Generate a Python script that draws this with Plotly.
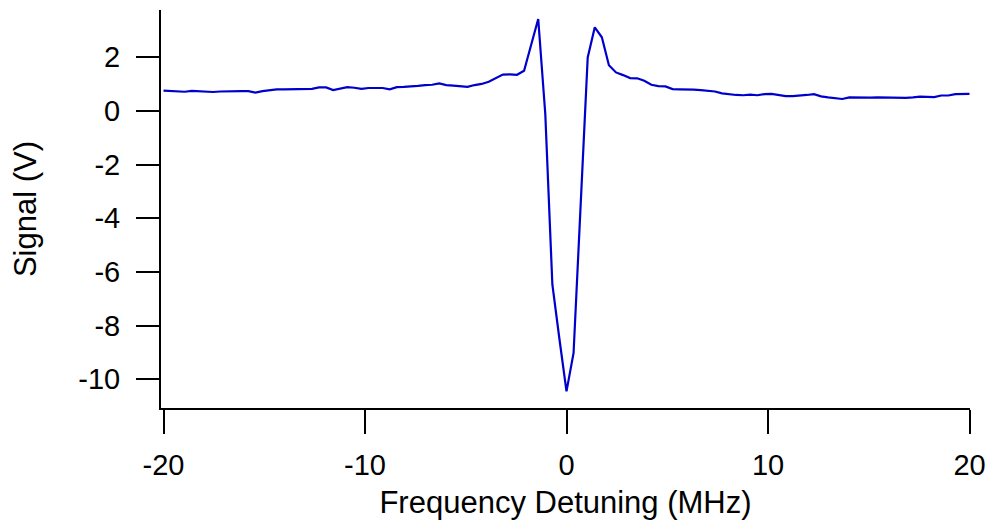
import numpy as np
import plotly.graph_objects as go

n_points = 115
x_start, x_stop = -20.0, 20.0
detuning = list(np.linspace(x_start, x_stop, n_points))

signal = [
    0.75, 0.74, 0.73, 0.71, 0.74, 0.73, 0.73, 0.70, 0.72, 0.73,
    0.73, 0.73, 0.73, 0.68, 0.73, 0.77, 0.80, 0.80, 0.81, 0.80,
    0.82, 0.82, 0.87, 0.87, 0.77, 0.83, 0.88, 0.86, 0.82, 0.85,
    0.85, 0.85, 0.80, 0.88, 0.89, 0.90, 0.93, 0.96, 0.97, 1.02,
    0.96, 0.94, 0.92, 0.89, 0.96, 1.00, 1.08, 1.22, 1.35, 1.36,
    1.34, 1.49, 2.45, 3.42, -0.12, -6.47, -8.5, -10.45, -9.02, -3.5,
    1.99, 3.11, 2.74, 1.70, 1.43, 1.33, 1.22, 1.21, 1.12, 0.97,
    0.92, 0.91, 0.81, 0.80, 0.80, 0.79, 0.77, 0.75, 0.72, 0.65,
    0.61, 0.59, 0.58, 0.60, 0.58, 0.62, 0.63, 0.60, 0.55, 0.55,
    0.56, 0.59, 0.62, 0.54, 0.50, 0.47, 0.44, 0.50, 0.49, 0.48,
    0.49, 0.50, 0.49, 0.48, 0.47, 0.48, 0.50, 0.53, 0.52, 0.51,
    0.57, 0.57, 0.62, 0.62, 0.63,
]

x_ticks = [-20, -10, 0, 10, 20]
y_ticks = [-10, -8, -6, -4, -2, 0, 2]

fig = go.Figure()
fig.add_trace(go.Scatter(
    x=detuning, y=signal, mode="lines",
    line=dict(color="rgb(0,0,204)", width=2.2),
    showlegend=False,
))

family = "Liberation Sans, Arial, sans-serif"
tick_font = dict(family=family, size=29, color="black")
title_font = dict(family=family, size=31, color="black")
fig.update_layout(
    width=991, height=520,
    margin=dict(l=161, r=21, t=10, b=112),
    paper_bgcolor="white", plot_bgcolor="white",
    font=dict(family=family, size=26, color="black"),
)
fig.update_xaxes(
    range=[-20.124, 20.025],
    tickvals=x_ticks, ticktext=[str(v) for v in x_ticks],
    tickfont=tick_font,
    ticks="outside", ticklen=24, tickwidth=2, tickcolor="black",
    ticklabelstandoff=6,
    showline=True, linecolor="black", linewidth=2,
    showgrid=False, zeroline=False, automargin=False,
    title=dict(text="Frequency Detuning (MHz)", font=title_font, standoff=15),
)
fig.update_yaxes(
    range=[-11.07, 3.755],
    tickvals=y_ticks, ticktext=[str(v) for v in y_ticks],
    tickfont=tick_font,
    ticks="outside", ticklen=23, tickwidth=2, tickcolor="black",
    ticklabelstandoff=10,
    showline=True, linecolor="black", linewidth=2,
    showgrid=False, zeroline=False, automargin=False,
    title=dict(text="Signal (V)", font=title_font, standoff=32),
)

fig.write_html("out.html")
